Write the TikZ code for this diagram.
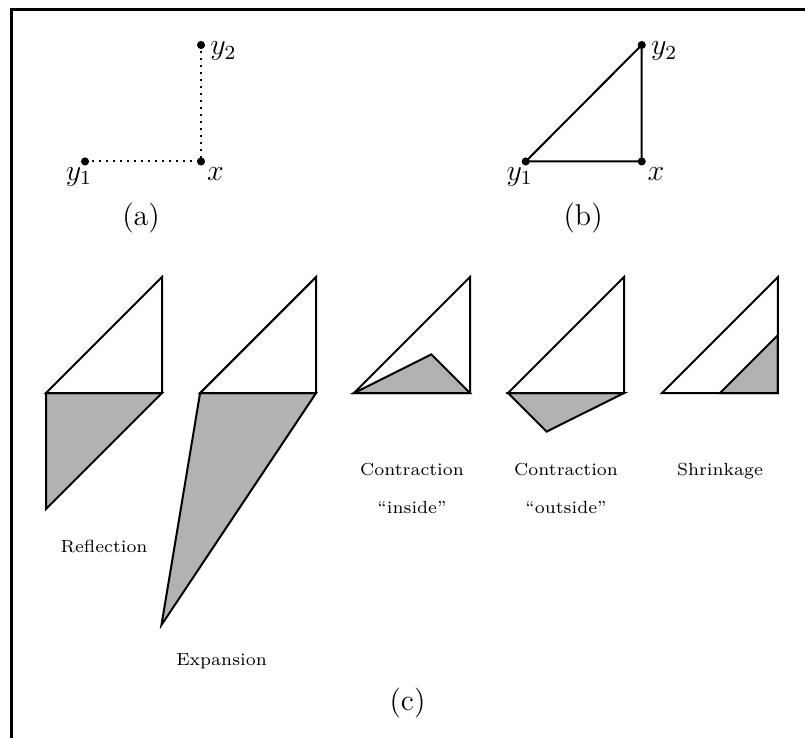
\documentclass[tikz,border=0pt]{standalone}
\usepackage{xcolor}
\usepackage{tikz}
\usepackage{amsmath,amssymb}

\begin{document}
\begin{tikzpicture}[scale=1.63, line width=0.8pt,
    pt/.style={font=\large},
    caption/.style={font=\scriptsize, anchor=base},
    shade/.style={fill=black!30}]
    \useasboundingbox (-0.397,-2.974) rectangle (6.543,3.388);
    \draw[line width=1.1pt] (6.7,3.306) -- (-0.297,3.306) -- (-0.297,-3.1);

    \coordinate (a1) at (0.336,1.996);
    \coordinate (a0) at (1.336,1.996);
    \coordinate (a2) at (1.336,3.0);
    \draw[dotted] (a1) -- (a0) -- (a2);
    \fill (a1) circle (0.035) node[pt, below, inner sep=2pt, xshift=-2.4pt] (la1) {$y_1$};
    \fill (a0) circle (0.035) node[pt, below right, inner sep=2pt] (la0) {$x$};
    \fill (a2) circle (0.035) node[pt, right, yshift=-2.5pt] (la2) {$y_2$};
    \node[pt, anchor=base] (capa) at (0.819,1.44) {(a)};

    \coordinate (b1) at (4.135,1.996);
    \coordinate (b0) at (5.135,1.996);
    \coordinate (b2) at (5.135,3.0);
    \draw (b1) -- (b0) -- (b2) -- cycle;
    \fill (b1) circle (0.035) node[pt, below, inner sep=2pt, xshift=-2.4pt] (lb1) {$y_1$};
    \fill (b0) circle (0.035) node[pt, below right, inner sep=2pt] (lb0) {$x$};
    \fill (b2) circle (0.035) node[pt, right, yshift=-2.5pt] (lb2) {$y_2$};
    \node[pt, anchor=base] (capb) at (4.63,1.44) {(b)};

    \filldraw[shade] (0,0) -- (1,0) -- (0,-1) -- cycle;
    \draw (0,0) -- (1,0) -- (1,1) -- cycle;
    \node[caption] (refl) at (0.5,-1.371) {Reflection};

    \filldraw[shade] (1.328,0) -- (2.328,0) -- (0.995,-2) -- cycle;
    \draw (1.328,0) -- (2.328,0) -- (2.328,1) -- cycle;
    \node[caption] (expa) at (1.513,-2.353) {Expansion};

    \filldraw[shade] (2.655,0) -- (3.655,0) -- (3.322,0.333) -- cycle;
    \draw (2.655,0) -- (3.655,0) -- (3.655,1) -- cycle;
    \node[caption] (cin) at (3.155,-0.711) {Contraction};
    \node[caption] (cinq) at (3.155,-1.043) {``inside''};

    \filldraw[shade] (3.983,0) -- (4.983,0) -- (4.316,-0.333) -- cycle;
    \draw (3.983,0) -- (4.983,0) -- (4.983,1) -- cycle;
    \node[caption] (cout) at (4.483,-0.711) {Contraction};
    \node[caption] (coutq) at (4.483,-1.043) {``outside''};

    \filldraw[shade] (5.81,0) -- (6.31,0) -- (6.31,0.5) -- cycle;
    \draw (5.31,0) -- (6.31,0) -- (6.31,1) -- cycle;
    \node[caption] (shr) at (5.81,-0.711) {Shrinkage};

    \node[pt, anchor=base] (capc) at (3.116,-2.733) {(c)};
\end{tikzpicture}
\end{document}
